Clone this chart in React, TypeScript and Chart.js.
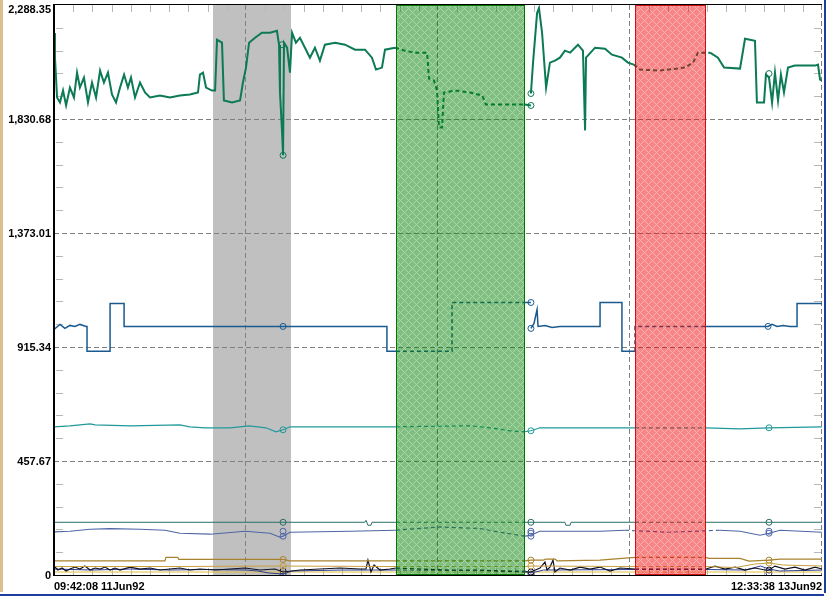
import { useEffect, useRef } from 'react';
import { Chart, registerables } from 'chart.js';

Chart.register(...registerables);

// ---- axis definitions ----
const yMax = 2288.35;
const yMajorStep = 457.67;
const yTickValues = [0, 457.67, 915.34, 1373.01, 1830.68, 2288.35];
const yTickLabels = ['0', '457.67', '915.34', '1,373.01', '1,830.68', '2,288.35'];
const xMin = 0;
const xMax = 400;
const xGridValues = [100, 200, 300, 400];
const xLabels = ['09:42:08 11Jun92', '12:33:38 13Jun92'];

// ---- highlighted time bands (gray, green, red) ----
const bandStart = [82.8, 178.1, 302.6];
const bandEnd = [123.4, 245.3, 339.6];

// ---- series: [time, value] ----
const greenLine: (number | null)[][] = [
  [0, 2176], [0.5, 2077], [1.6, 1917], [3.1, 1897], [4.7, 1945], [6.3, 1885], [8.3, 1957], [10.4, 1917],
  [12, 2017], [13.5, 1957], [15.6, 1997], [17.7, 1897], [19.8, 1977], [21.9, 1917], [24, 2025], [26, 1977],
  [28.1, 2017], [30.2, 1929], [32.3, 1897], [34.4, 1957], [36.5, 2009], [38.5, 1957], [40.1, 1997], [42.2, 1917],
  [44.8, 1977], [47.4, 1937], [50, 1917], [55.2, 1925], [60.4, 1917], [65.6, 1925], [70.8, 1929], [75, 1937],
  [76, 2009], [77.6, 2017], [79.2, 1957], [82.3, 1945], [83.9, 1945], [84.9, 2149], [87.5, 2137], [88.5, 1905],
  [92.7, 1897], [96.9, 1905], [98.4, 1977], [100, 2037], [101.6, 2137], [104.7, 2157], [108.3, 2177], [112.5, 2177],
  [116.1, 2185], [117.2, 2129], [117.7, 1937], [118.8, 1777], [119.3, 1685], [119.8, 2137], [121.4, 2117], [122.9, 2017],
  [124, 2177], [126, 2137], [128.1, 2157], [130.7, 2117], [133.3, 2077], [135.9, 2117], [138.5, 2065], [141.1, 2129],
  [146.4, 2137], [151.6, 2129], [156.8, 2109], [162, 2109], [165.6, 2077], [167.7, 2029], [170.8, 2037], [172.4, 2109],
  [177.6, 2117], [182.8, 2105], [188, 2097], [194.3, 2097], [195.3, 1993], [197.9, 1985], [199.5, 1945], [200.5, 1797],
  [202.1, 1797], [203.1, 1937], [208.9, 1945], [216.7, 1937], [223, 1925], [225, 1889], [232.3, 1889], [245.3, 1889],
  [248.4, 1885], [248.4, null], [248.4, 1933], [249.5, 2057], [251.6, 2256], [252.6, 2276], [254.2, 2177], [256.3, 1957],
  [258.3, 2057], [260.9, 2065], [263.5, 2077], [266.1, 2105], [268.8, 2097], [272.9, 2129], [275.5, 2105], [276.6, 1785],
  [277.1, 2077], [281.8, 2117], [287, 2113], [290.6, 2089], [295.8, 2077], [298.9, 2057], [302, 2049], [305.2, 2029],
  [315.6, 2025], [328.6, 2037], [332.8, 2057], [335.4, 2097], [341.7, 2097], [345.8, 2077], [349, 2037], [357.3, 2033],
  [359.9, 2153], [365.1, 2145], [366.1, 1897], [369.8, 1897], [370.8, 2009], [372.4, 1997], [374, 1897], [375.5, 2017],
  [377.1, 1905], [378.6, 2009], [380.2, 1937], [382.3, 2037], [385.9, 2045], [391.1, 2045], [396.4, 2045], [397.9, 2049],
  [399, 1989], [400, 1985],
];
const greenMarks = [[118.8, 2129], [119.3, 1685], [248.4, 1885], [248.4, 1933], [372.4, 2013]];

const blueLine: (number | null)[][] = [
  [0, 986], [3.1, 1006], [5.7, 990], [8.3, 1002], [10.9, 998], [13.5, 1006], [16.7, 998], [17.2, 998],
  [17.2, 898.6], [29.2, 898.6], [29.2, 1090], [36.5, 1090], [36.5, 998], [173.4, 998], [173.4, 898.6], [178.1, 898.6],
  [207.3, 898.6], [207.3, 1094], [245.3, 1094], [248.4, 1094], [248.4, null], [248.4, 990], [250, 1010], [251.6, 1066],
  [252.1, 998], [255.7, 1002], [259.4, 994], [263.5, 998], [284.4, 998], [284.4, 1094], [295.8, 1094], [295.8, 898.6],
  [302.6, 898.6], [302.6, 998], [339.6, 998], [370.3, 998], [371.9, 998], [374, 1006], [376.6, 998], [379.7, 1002],
  [383.3, 998], [387, 998], [387, 1090], [400, 1090],
];
const blueMarks = [[119.3, 998], [248.4, 1094], [248.4, 990], [371.9, 998]];

const tealLine = [
  [0, 595], [8.3, 599], [18.8, 607], [21.4, 603], [39.6, 599], [65.6, 603], [70.8, 595], [78.6, 591],
  [91.7, 591], [101.6, 599], [110.4, 591], [115.6, 575], [119.3, 583], [122.9, 595], [154.2, 595], [178.1, 595],
  [216.7, 599], [227.1, 591], [237.5, 579], [245.3, 575], [248.4, 579], [253.1, 591], [284.4, 591], [302.6, 591],
  [339.6, 591], [357.3, 587], [372.4, 591], [400, 595],
];
const tealMarks = [[119.3, 583], [248.4, 579], [372.4, 591]];

const darkTealLine = [
  [0, 211.7], [161.9, 211.7], [162.5, 219.7], [163.5, 199.7], [165.1, 199.7], [165.6, 211.7], [178.1, 211.7],
  [245.3, 211.7], [266.1, 211.7], [266.6, 199.7], [268.8, 199.7], [269.3, 211.7], [302.6, 211.7], [339.6, 211.7],
  [400, 211.7],
];
const darkTealMarks = [[119.3, 211.7], [248.4, 211.7], [372.4, 211.7]];

const blueGrayLine = [
  [0, 172.9], [8.3, 175.7], [18.8, 183.7], [29.2, 186.5], [44.8, 183.7], [57.8, 179.7], [65.6, 167.7], [81.3, 163.7],
  [99.5, 175.7], [112.5, 167.7], [117.7, 151.8], [119.3, 155.8], [122.9, 171.7], [154.2, 175.7], [178.1, 179.7],
  [201, 192.9], [221.9, 186.5], [232.3, 171.7], [245.3, 155.8], [248.4, 159.7], [253, 175.7], [284.4, 175.7],
  [297.4, 179.7], [320, 171.7], [346.9, 179.7], [357.3, 175.7], [367.7, 159.7], [372.4, 167.7], [378.1, 179.7],
  [400, 171.7],
];
const blueGrayMarks = [[119.3, 175.7], [119.3, 155.8], [248.4, 175.7], [248.4, 167.7], [248.4, 155.8], [372.4, 175.7], [372.4, 167.7]];

const tanLine = [
  [0, 57], [57.8, 57], [58.3, 70.6], [64.5, 70.6], [65, 62.6], [119.3, 62.6], [122.9, 57], [178.1, 57],
  [245.3, 57], [248.4, 59.9], [255, 59.9], [256, 63.9], [261, 63.9], [262, 57], [284.4, 59.9], [302.6, 70.6],
  [339.6, 70.6], [341, 66.6], [357.3, 66.6], [362, 55.9], [372.4, 59.9], [378.1, 63.9], [400, 63.9],
];
const tanMarks = [[119.3, 62.6], [248.4, 59.9], [372.4, 59.9]];

const goldLine = [
  [0, 34], [60, 34], [119.3, 36], [178.1, 34], [245.3, 34], [248.4, 36], [302.6, 34], [339.6, 34],
  [355, 30], [365, 44], [372.4, 48], [380, 40], [400, 36],
];
const goldMarks = [[119.3, 36], [248.4, 36], [372.4, 48]];

const blackLine = [
  [0, 35.9], [2.1, 20], [4.2, 28], [6.3, 16], [8.3, 24], [10.9, 31.9], [13.5, 24], [16.1, 35.9],
  [18.8, 20], [21.4, 28], [24, 24], [26.6, 31.9], [29.2, 20], [31.8, 28], [34.4, 20], [39.6, 31.9],
  [44.8, 24], [50, 28], [55.2, 20], [60.4, 24], [65.6, 28], [70.8, 20], [76, 24], [83.9, 20],
  [91.7, 24], [99.5, 28], [107.3, 20], [115.1, 24], [119.3, 12], [128.1, 20], [138.5, 24], [149, 28],
  [159.4, 24], [162.5, 24], [163.5, 59.9], [165.1, 12], [166.7, 39.9], [169.8, 20], [175, 24], [178.1, 28],
  [190.6, 24], [206.3, 20], [221.9, 20], [232.3, 16], [245.3, 12], [248.4, 12], [253.1, 28], [255.7, 51.9],
  [256.8, 20], [258.3, 31.9], [259.9, 59.9], [260.9, 12], [263.5, 28], [268.8, 20], [274, 31.9], [279.2, 24],
  [284.4, 31.9], [289.6, 16], [294.8, 28], [302.6, 24], [320.8, 24], [339.6, 24], [344.3, 35.9], [349.5, 24],
  [354.7, 31.9], [359.9, 20], [365.1, 28], [370.3, 20], [372.4, 20], [375.5, 35.9], [380.7, 24], [385.9, 31.9],
  [391.1, 20], [396.4, 31.9], [400, 24],
];
const blackMarks = [[119.3, 16], [248.4, 12], [372.4, 20]];

const navyLine = [
  [0, 24], [20, 20], [40, 24], [60, 20], [80, 22], [100, 20], [106, 16], [112, 8], [119.3, 4], [124, 16],
  [150, 20], [178.1, 20], [245.3, 16], [248.4, 8], [255, 20], [302.6, 22], [339.6, 22], [360, 20], [368, 36],
  [372.4, 24], [378, 16], [400, 20],
];
const navyMarks = [[119.3, 4], [248.4, 4], [372.4, 8]];

const yellowLine = [[0, 12], [178.1, 12], [245.3, 12], [302.6, 12], [339.6, 12], [400, 12]];

const seriesList = [
  { line: greenLine, marks: greenMarks, color: '#0b7a55', width: 2 },
  { line: blueLine, marks: blueMarks, color: '#1a5a8f', width: 1.5 },
  { line: tealLine, marks: tealMarks, color: '#21999a', width: 1.2 },
  { line: darkTealLine, marks: darkTealMarks, color: '#2a6e6a', width: 1 },
  { line: blueGrayLine, marks: blueGrayMarks, color: '#4e66a6', width: 1.2 },
  { line: tanLine, marks: tanMarks, color: '#a8822e', width: 1.2 },
  { line: goldLine, marks: goldMarks, color: '#c8a040', width: 1 },
  { line: blackLine, marks: blackMarks, color: '#101020', width: 1.2 },
  { line: navyLine, marks: navyMarks, color: '#303c90', width: 1 },
  { line: yellowLine, marks: [], color: '#e0c040', width: 1 },
];

const inDashedBand = (a: number, b: number) => {
  const m = (a + b) / 2;
  return [1, 2].some((i) => m >= bandStart[i] && m <= bandEnd[i]);
};

function makePattern(ctx: CanvasRenderingContext2D, r: number, g: number, b: number, a1: number, a2: number) {
  const c = document.createElement('canvas');
  c.width = 8;
  c.height = 8;
  const cx = c.getContext('2d')!;
  const img = cx.createImageData(8, 8);
  for (let j = 0; j < 8; j++) {
    for (let i = 0; i < 8; i++) {
      const k = (j * 8 + i) * 4;
      const line = (i + j) % 8 === 0 || (i - j + 8) % 8 === 0;
      img.data[k] = r;
      img.data[k + 1] = g;
      img.data[k + 2] = b;
      img.data[k + 3] = Math.round((line ? a2 : a1) * 255);
    }
  }
  cx.putImageData(img, 0, 0);
  return ctx.createPattern(c, 'repeat')!;
}

const decorPlugin = {
  id: 'decor',
  beforeDatasetsDraw(chart: any) {
    const { ctx, chartArea: a, scales } = chart;
    const x = scales.x;
    const y = scales.y;
    ctx.save();
    // gray band (behind)
    const g0 = Math.round(x.getPixelForValue(bandStart[0]));
    const g1 = Math.round(x.getPixelForValue(bandEnd[0]));
    ctx.fillStyle = '#c0c0c0';
    ctx.fillRect(g0, a.top, g1 - g0, a.bottom - a.top);

    // minor ticks
    ctx.strokeStyle = '#b8b8b8';
    ctx.lineWidth = 1;
    const minor = yMajorStep / 5;
    for (let i = 1; i < 25; i++) {
      if (i % 5 === 0) continue;
      const py = Math.round(y.getPixelForValue(i * minor)) + 0.5;
      ctx.beginPath();
      ctx.moveTo(a.left + 2, py);
      ctx.lineTo(a.left + 9, py);
      ctx.moveTo(a.right - 8, py);
      ctx.lineTo(a.right - 1, py);
      ctx.stroke();
    }
    for (let t = 10; t < xMax; t += 10) {
      if (t % 100 === 0) continue;
      const px = Math.round(x.getPixelForValue(t)) + 0.5;
      ctx.beginPath();
      ctx.moveTo(px, a.top);
      ctx.lineTo(px, a.top + 7);
      ctx.moveTo(px, a.bottom - 7);
      ctx.lineTo(px, a.bottom);
      ctx.stroke();
    }

    // dashed grid
    ctx.strokeStyle = '#808080';
    ctx.setLineDash([5, 3]);
    yTickValues.forEach((v) => {
      if (v === 0 || v === yMax) return;
      const py = Math.round(y.getPixelForValue(v)) + 0.5;
      ctx.beginPath();
      ctx.moveTo(a.left, py);
      ctx.lineTo(a.right, py);
      ctx.stroke();
    });
    xGridValues.forEach((t) => {
      const px = Math.round(x.getPixelForValue(t)) - 0.5;
      ctx.beginPath();
      ctx.moveTo(px, a.top);
      ctx.lineTo(px, a.bottom);
      ctx.stroke();
    });
    ctx.restore();
  },
  afterDatasetsDraw(chart: any) {
    const { ctx, chartArea: a, scales } = chart;
    const x = scales.x;
    const y = scales.y;
    ctx.save();
    const bands = [
      { i: 1, pat: makePattern(ctx, 0, 128, 0, 0.5, 0.32), border: '#007800' },
      { i: 2, pat: makePattern(ctx, 240, 0, 0, 0.48, 0.3), border: '#d01010' },
    ];
    bands.forEach((b) => {
      const x0 = Math.round(x.getPixelForValue(bandStart[b.i]));
      const x1 = Math.round(x.getPixelForValue(bandEnd[b.i]));
      ctx.fillStyle = b.pat;
      ctx.fillRect(x0, a.top, x1 - x0, a.bottom - a.top);
      ctx.strokeStyle = b.border;
      ctx.lineWidth = 1;
      ctx.strokeRect(x0 + 0.5, a.top + 0.5, x1 - x0 - 1, a.bottom - a.top - 1);
    });

    // plot frame
    ctx.fillStyle = '#000';
    ctx.fillRect(a.left - 1, a.top - 1, a.right - a.left + 1, 1);
    ctx.fillRect(a.left - 1, a.top - 1, 2, a.bottom - a.top + 1);
    ctx.fillRect(a.left - 1, a.bottom, a.right - a.left + 1, 1);

    // y labels
    ctx.font = 'bold 11px "Liberation Sans", Arial, sans-serif';
    ctx.fillStyle = '#000';
    ctx.textAlign = 'right';
    yTickValues.forEach((v, idx) => {
      const py = y.getPixelForValue(v);
      if (v === yMax) {
        ctx.textBaseline = 'top';
        ctx.fillText(yTickLabels[idx], a.left - 3, py - 1);
      } else {
        ctx.textBaseline = 'middle';
        ctx.fillText(yTickLabels[idx], a.left - 3, py + 1);
      }
    });
    ctx.restore();
  },
  afterDraw(chart: any) {
    const { ctx, width, height } = chart;
    ctx.save();
    ctx.fillStyle = '#dcbf8e';
    ctx.fillRect(0, 0, 3, height - 5);
    ctx.fillStyle = '#1e3c9a';
    ctx.fillRect(width - 3, 0, 2, height - 4);
    ctx.fillRect(0, height - 3, width - 3, 2);
    ctx.restore();
  },
};

export default function App() {
  const ref = useRef<HTMLCanvasElement | null>(null);
  useEffect(() => {
    document.body.style.margin = '0';
    const canvas = ref.current!;
    const datasets: any[] = [];
    seriesList.forEach((s) => {
      datasets.push({
        data: s.line.map((p) => ({ x: p[0], y: p[1] })),
        borderColor: s.color,
        borderWidth: s.width,
        pointRadius: 0,
        fill: false,
        spanGaps: false,
        tension: 0,
        segment: {
          borderDash: (c: any) => (inDashedBand(c.p0.parsed.x, c.p1.parsed.x) ? [4, 3] : undefined),
        },
      });
    });
    seriesList.forEach((s) => {
      if (!s.marks.length) return;
      datasets.push({
        data: s.marks.map((p) => ({ x: p[0], y: p[1] })),
        showLine: false,
        pointRadius: 3,
        pointBorderWidth: 1,
        pointBorderColor: s.color,
        pointBackgroundColor: 'rgba(0,0,0,0)',
      });
    });
    const chart = new Chart(canvas, {
      type: 'line',
      data: { datasets },
      options: {
        animation: false,
        responsive: false,
        devicePixelRatio: 1,
        layout: { padding: { top: 2, right: 5, left: 0, bottom: 0 } },
        plugins: { legend: { display: false }, tooltip: { enabled: false } },
        scales: {
          x: {
            type: 'linear',
            min: xMin,
            max: xMax,
            grid: { display: false, drawTicks: false },
            border: { display: false },
            afterBuildTicks: (s: any) => {
              s.ticks = [{ value: xMin }, { value: xMax }];
            },
            afterFit: (s: any) => {
              s.height = 22;
            },
            ticks: {
              align: 'inner',
              maxRotation: 0,
              autoSkip: false,
              padding: 5,
              color: '#000',
              font: { family: '"Liberation Sans", Arial, sans-serif', size: 11, weight: 'bold' },
              callback: (_v: any, i: number) => xLabels[i],
            },
          },
          y: {
            type: 'linear',
            min: 0,
            max: yMax,
            grid: { display: false },
            border: { display: false },
            ticks: { display: false },
            afterFit: (s: any) => {
              s.width = 54;
            },
          },
        },
      } as any,
      plugins: [decorPlugin],
    });
    return () => chart.destroy();
  }, []);
  return (
    <div style={{ width: 827, height: 597, background: '#fff' }}>
      <canvas ref={ref} width={827} height={597} style={{ display: 'block' }} />
    </div>
  );
}
